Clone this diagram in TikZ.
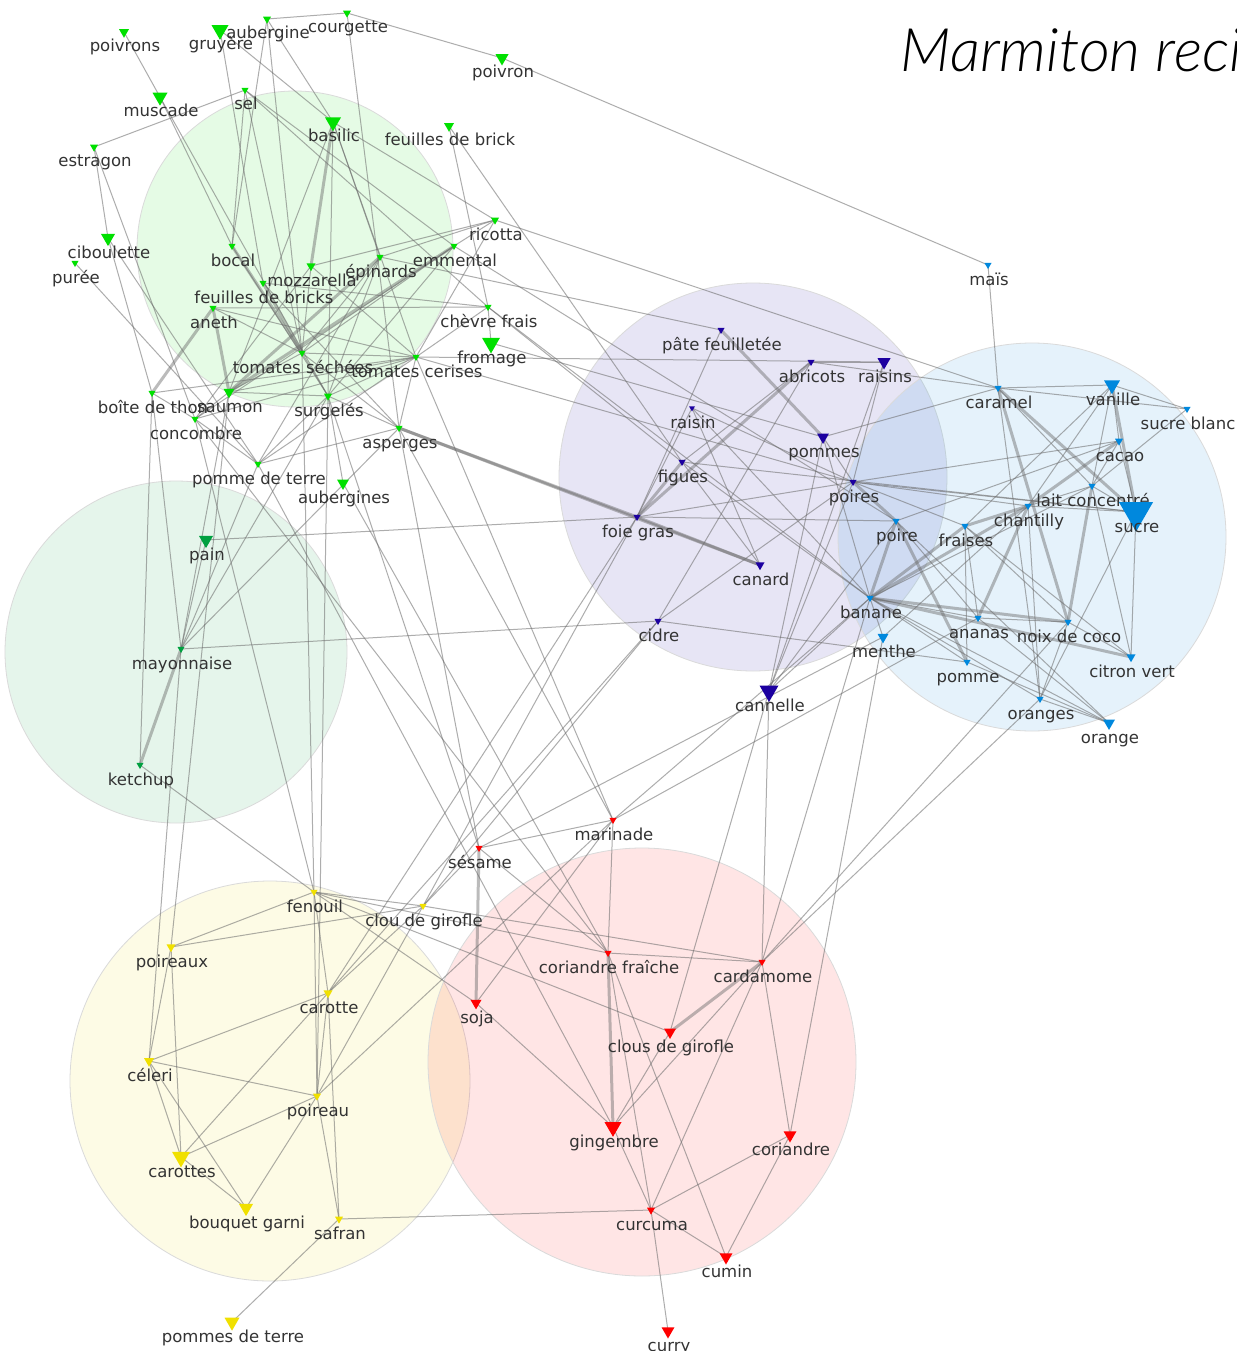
\documentclass[tikz,border=0pt]{standalone}
\usepackage{fontspec}
\setmainfont{DejaVu Sans}
\newfontfamily\titlefont{Lato Light Italic}
\usetikzlibrary{shapes.geometric}

\definecolor{gr}{HTML}{00E000}
\definecolor{dg}{HTML}{00A040}
\definecolor{nv}{HTML}{1C00A0}
\definecolor{bl}{HTML}{0088DD}
\definecolor{yl}{HTML}{F0E000}
\definecolor{rd}{HTML}{FF0000}
\definecolor{labelgray}{HTML}{333333}
\definecolor{edgegray}{HTML}{6A6A6A}
\definecolor{ringgray}{HTML}{DADADA}

\pgfdeclarelayer{bg}
\pgfdeclarelayer{edges}
\pgfsetlayers{bg,edges,main}

\tikzset{
  tri/.style={regular polygon, regular polygon sides=3, shape border rotate=180,
              inner sep=0pt, draw=none},
  lbl/.style={font=\fontsize{16.5}{18}\selectfont, text=labelgray, inner sep=0pt},
  edge/.style={draw=edgegray, line width=1pt, opacity=0.55},
  heavy/.style={draw=edgegray, line width=3pt, opacity=0.45},
  cluster/.style={draw=ringgray, line width=0.8pt, fill opacity=0.1}
}

% ingredient: name, x, y, triangle width, colour, label
\newcommand\ing[6]{%
  \node[tri, minimum size={1.155*#4}, fill=#5] (#1) at (#2,#3) {};
  \node[lbl, anchor=base] (#1-l) at (#2+1,#3+20) {#6};
}

\begin{document}
\begin{tikzpicture}[x=1pt,y=-1pt]
\useasboundingbox (0,0) rectangle (1236,1351);

\begin{pgfonlayer}{bg}
  \fill[white] (0,0) rectangle (1236,1351);
  \filldraw[cluster, fill=gr] (295,249) circle (158);
  \filldraw[cluster, fill=dg] (176,652) circle (171);
  \filldraw[cluster, fill=nv] (753,477) circle (194);
  \filldraw[cluster, fill=bl] (1032,537) circle (194);
  \filldraw[cluster, fill=yl] (270,1081) circle (200);
  \filldraw[cluster, fill=rd] (642,1062) circle (214);
\end{pgfonlayer}

\node[anchor=base west, font=\titlefont\fontsize{60}{60}\selectfont] (title) at (897,72) {Marmiton recipes};

% green group
\ing{poivrons}{124}{32}{10}{gr}{poivrons}
\ing{gruyere}{220}{30}{17}{gr}{gruyère}
\ing{aubergine}{267}{19}{8}{gr}{aubergine}
\ing{courgette}{347}{13}{8}{gr}{courgette}
\ing{poivron}{502}{58}{13}{gr}{poivron}
\ing{muscade}{160}{97}{15}{gr}{muscade}
\ing{sel}{245}{90}{7}{gr}{sel}
\ing{estragon}{94}{147}{8}{gr}{estragon}
\ing{basilic}{333}{122}{16}{gr}{basilic}
\ing{feuillesbrick}{449}{126}{10}{gr}{feuilles de brick}
\ing{ciboulette}{108}{238}{14}{gr}{ciboulette}
\ing{puree}{75}{263}{7}{gr}{purée}
\ing{bocal}{232}{246}{7}{gr}{bocal}
\ing{mozzarella}{311}{266}{9}{gr}{mozzarella}
\ing{epinards}{380}{257}{7}{gr}{épinards}
\ing{feuillesbricks}{263}{283}{7}{gr}{feuilles de bricks}
\ing{aneth}{213}{308}{7}{gr}{aneth}
\ing{ricotta}{495}{220}{8}{gr}{ricotta}
\ing{emmental}{454}{246}{7}{gr}{emmental}
\ing{chevre}{488}{307}{7}{gr}{chèvre frais}
\ing{fromage}{491}{343}{18}{gr}{fromage}
\ing{tomsechees}{302}{353}{7}{gr}{tomates séchées}
\ing{tomcerises}{416}{357}{7}{gr}{tomates cerises}
\ing{boite}{152}{393}{7}{gr}{boîte de thon}
\ing{saumon}{229}{392}{11}{gr}{saumon}
\ing{concombre}{195}{419}{7}{gr}{concombre}
\ing{surgeles}{328}{396}{8}{gr}{surgelés}
\ing{asperges}{399}{428}{7}{gr}{asperges}
\ing{pdt}{258}{464}{7}{gr}{pomme de terre}
\ing{aubergines}{343}{483}{12}{gr}{aubergines}
% dark green group
\ing{pain}{206}{540}{14}{dg}{pain}
\ing{mayo}{181}{649}{7}{dg}{mayonnaise}
\ing{ketchup}{140}{765}{7}{dg}{ketchup}
% navy group
\ing{pate}{721}{330}{7}{nv}{pâte feuilletée}
\ing{abricots}{811}{362}{7}{nv}{abricots}
\ing{raisins}{884}{362}{13}{nv}{raisins}
\ing{raisin}{692}{408}{6}{nv}{raisin}
\ing{pommes}{823}{437}{12}{nv}{pommes}
\ing{figues}{682}{462}{7}{nv}{figues}
\ing{poires}{853}{482}{7}{nv}{poires}
\ing{foiegras}{637}{517}{7}{nv}{foie gras}
\ing{canard}{760}{565}{9}{nv}{canard}
\ing{cidre}{658}{621}{7}{nv}{cidre}
\ing{cannelle}{769}{691}{19}{nv}{cannelle}
% blue group
\ing{mais}{988}{265}{7}{bl}{maïs}
\ing{caramel}{998}{388}{7}{bl}{caramel}
\ing{vanille}{1112}{385}{16}{bl}{vanille}
\ing{sucreblanc}{1187}{409}{7}{bl}{sucre blanc}
\ing{cacao}{1119}{441}{8}{bl}{cacao}
\ing{laitc}{1092}{486}{7}{bl}{lait concentré}
\ing{sucre}{1136}{512}{34}{bl}{sucre}
\ing{chantilly}{1028}{506}{7}{bl}{chantilly}
\ing{poire}{896}{521}{7}{bl}{poire}
\ing{fraises}{965}{526}{7}{bl}{fraises}
\ing{banane}{870}{598}{7}{bl}{banane}
\ing{ananas}{978}{618}{7}{bl}{ananas}
\ing{noixcoco}{1068}{622}{7}{bl}{noix de coco}
\ing{menthe}{883}{637}{11}{bl}{menthe}
\ing{pomme}{967}{662}{7}{bl}{pomme}
\ing{citron}{1131}{657}{9}{bl}{citron vert}
\ing{oranges}{1040}{699}{7}{bl}{oranges}
\ing{orange}{1109}{723}{12}{bl}{orange}
% red group
\ing{marinade}{613}{820}{7}{rd}{marinade}
\ing{sesame}{479}{848}{7}{rd}{sésame}
\ing{corfraiche}{608}{953}{7}{rd}{coriandre fraîche}
\ing{cardamome}{762}{962}{7}{rd}{cardamome}
\ing{soja}{476}{1003}{11}{rd}{soja}
\ing{clous}{670}{1032}{12}{rd}{clous de girofle}
\ing{gingembre}{613}{1127}{17}{rd}{gingembre}
\ing{coriandre}{790}{1135}{13}{rd}{coriandre}
\ing{curcuma}{651}{1210}{8}{rd}{curcuma}
\ing{cumin}{726}{1257}{13}{rd}{cumin}
\ing{curry}{668}{1331}{13}{rd}{curry}
% yellow group
\ing{fenouil}{314}{892}{7}{yl}{fenouil}
\ing{clou}{423}{906}{7}{yl}{clou de girofle}
\ing{poireaux}{171}{947}{9}{yl}{poireaux}
\ing{carotte}{328}{993}{9}{yl}{carotte}
\ing{celeri}{149}{1061}{10}{yl}{céleri}
\ing{poireau}{317}{1096}{8}{yl}{poireau}
\ing{carottes}{181}{1157}{18}{yl}{carottes}
\ing{bouquet}{246}{1208}{14}{yl}{bouquet garni}
\ing{safran}{339}{1219}{8}{yl}{safran}
\ing{pdtz}{232}{1322}{15}{yl}{pommes de terre}

\begin{pgfonlayer}{edges}
% strong co-occurrences
\foreach \a/\b in {basilic/mozzarella, bocal/tomsechees, feuillesbricks/tomsechees,
  epinards/saumon, emmental/saumon, aneth/boite, aneth/saumon, asperges/foiegras,
  asperges/canard, mayo/ketchup, pate/pommes, abricots/foiegras, figues/foiegras,
  foiegras/canard, poires/poire, poire/banane, poire/pomme, caramel/sucre,
  caramel/noixcoco, vanille/sucre, cacao/chantilly, laitc/noixcoco, chantilly/fraises,
  chantilly/banane, chantilly/ananas, fraises/banane, banane/noixcoco, banane/citron,
  sesame/soja, corfraiche/gingembre, cardamome/clous}
  \draw[heavy] (\a.center) -- (\b.center);
% ordinary co-occurrences
\foreach \a/\b in {courgette/aubergine, courgette/poivron, poivron/mais, courgette/asperges,
  aubergine/bocal, aubergine/tomsechees, aubergine/basilic,
  poivrons/muscade, muscade/bocal, muscade/surgeles, gruyere/basilic, gruyere/feuillesbricks,
  sel/estragon, sel/bocal, sel/emmental, sel/chevre, sel/tomsechees,
  estragon/ciboulette, estragon/concombre, ciboulette/pdt, ciboulette/boite, puree/pdt,
  basilic/ricotta, basilic/tomcerises, basilic/epinards, basilic/saumon, basilic/surgeles,
  feuillesbrick/chevre, feuillesbrick/figues, bocal/surgeles,
  feuillesbricks/chevre, feuillesbricks/asperges,
  mozzarella/tomsechees, mozzarella/tomcerises, mozzarella/ricotta, mozzarella/concombre,
  epinards/ricotta, epinards/tomsechees, epinards/surgeles, epinards/pate, epinards/pdt,
  emmental/ricotta, emmental/tomsechees, emmental/surgeles,
  emmental/concombre, emmental/poire, ricotta/caramel, ricotta/tomcerises,
  chevre/fromage, chevre/tomcerises, chevre/figues, chevre/banane, chevre/aneth,
  aneth/tomcerises, aneth/tomsechees,
  tomsechees/tomcerises, tomsechees/saumon, tomsechees/surgeles, tomsechees/asperges,
  tomsechees/fenouil, tomcerises/surgeles, tomcerises/saumon, tomcerises/boite,
  tomcerises/concombre, tomcerises/asperges, tomcerises/raisins, tomcerises/poires,
  tomcerises/marinade, tomcerises/pdt, fromage/pommes,
  boite/ketchup, boite/mayo, boite/concombre, saumon/concombre, saumon/surgeles,
  saumon/mayo, saumon/poireaux, concombre/fenouil, concombre/pdt, concombre/corfraiche,
  surgeles/pdt, surgeles/asperges, surgeles/sesame, surgeles/poireau, surgeles/mayo,
  asperges/pdt, asperges/mayo, asperges/marinade, asperges/sesame,
  pdt/mayo, pdt/gingembre, aubergines/corfraiche, aubergines/surgeles,
  pain/foiegras, pain/mayo, mayo/cidre, mayo/celeri, ketchup/fenouil,
  pate/foiegras, abricots/raisins, abricots/figues, abricots/caramel, abricots/cidre,
  raisins/cannelle, raisins/poires, raisin/foiegras, raisin/canard, raisin/poires,
  raisin/banane, figues/canard, figues/sucre, figues/banane,
  foiegras/poire, foiegras/poires, foiegras/carotte,
  pommes/caramel, pommes/poires, pommes/cannelle, pommes/banane,
  poires/sucre, poires/chantilly, poires/fraises, poires/cannelle, poires/cacao,
  poire/ananas, poire/cannelle, poire/orange,
  cidre/pomme, cidre/poires, cidre/carotte, cannelle/banane, cannelle/cardamome,
  cannelle/clous, mais/caramel,
  caramel/vanille, caramel/sucreblanc, caramel/laitc, caramel/oranges,
  vanille/sucreblanc, vanille/cacao, vanille/laitc, vanille/chantilly, vanille/fraises,
  sucreblanc/laitc, cacao/sucre, cacao/laitc, cacao/poire,
  laitc/sucre, laitc/chantilly, laitc/citron, laitc/banane,
  chantilly/sucre, chantilly/oranges, chantilly/menthe,
  fraises/ananas, fraises/noixcoco, fraises/pomme, fraises/citron,
  banane/ananas, banane/pomme, banane/oranges, banane/orange, banane/menthe,
  ananas/noixcoco, ananas/orange, noixcoco/citron, noixcoco/oranges,
  sucre/citron, sucre/oranges, pomme/orange, oranges/orange,
  menthe/coriandre, cardamome/noixcoco, cardamome/oranges, cardamome/banane,
  marinade/sesame, marinade/corfraiche, marinade/soja, marinade/poireau,
  marinade/banane, marinade/ananas, sesame/menthe,
  sesame/clou, sesame/corfraiche, corfraiche/cardamome, corfraiche/curcuma,
  corfraiche/cumin, cardamome/coriandre, cardamome/gingembre, cardamome/curcuma,
  clou/cardamome, clou/poireaux, clou/carotte, clou/poireau, clou/fenouil,
  clou/cidre, clou/foiegras,
  fenouil/poireaux, fenouil/carotte, fenouil/soja, fenouil/clous, fenouil/poireau,
  fenouil/corfraiche,
  soja/gingembre, clous/gingembre, gingembre/curcuma,
  curcuma/coriandre, curcuma/cumin, curcuma/curry, curcuma/safran, coriandre/cumin,
  carotte/celeri, carotte/poireau, carotte/safran, carotte/carottes,
  celeri/poireau, celeri/carottes, celeri/bouquet, poireaux/celeri, poireaux/carottes,
  poireau/carottes, poireau/bouquet, poireau/safran, carottes/bouquet, safran/pdtz}
  \draw[edge] (\a.center) -- (\b.center);
\end{pgfonlayer}

\end{tikzpicture}
\end{document}
